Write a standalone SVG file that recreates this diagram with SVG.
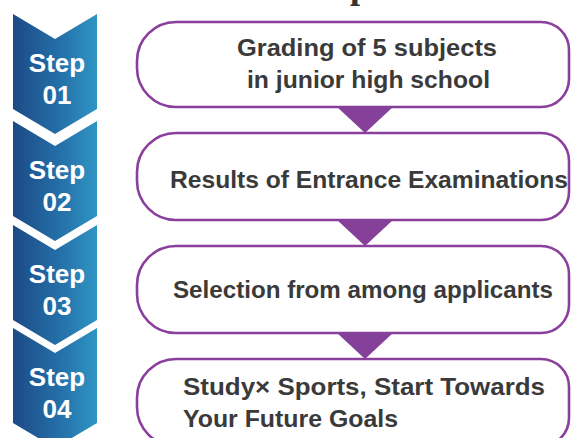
<svg xmlns="http://www.w3.org/2000/svg" width="572" height="438" viewBox="0 0 572 438">
  <defs>
    <linearGradient id="chev" gradientUnits="userSpaceOnUse" x1="13" y1="0" x2="97" y2="0">
      <stop offset="0" stop-color="#1d4a86"/>
      <stop offset="0.55" stop-color="#246fa8"/>
      <stop offset="1" stop-color="#2f95c4"/>
    </linearGradient>
    <style>
      .chev { fill: url(#chev); }
      .step { font-family: "Liberation Sans", Arial, sans-serif; font-weight: bold; font-size: 26px; fill: #ffffff; text-anchor: middle; }
      .box { fill: #ffffff; stroke: #8b3f9d; stroke-width: 2.6; }
      .tri { fill: #85409a; }
      .lbl { font-family: "Liberation Sans", Arial, sans-serif; font-weight: bold; font-size: 24px; fill: #3a3a3a; }
    </style>
  </defs>
  <rect width="572" height="438" fill="#ffffff"/>
  <text x="350" y="-2" font-family="Liberation Serif, serif" font-weight="bold" font-size="36" fill="#333333">p</text>

  <g id="step01">
    <path class="chev" d="M13,14 L55,39 L97,14 L97,109 L55,134 L13,109 Z"/>
    <text class="step" x="57" y="72">Step</text>
    <text class="step" x="57" y="104">01</text>
  </g>
  <g id="step02">
    <path class="chev" d="M13,121 L55,146 L97,121 L97,216 L55,241 L13,216 Z"/>
    <text class="step" x="57" y="179">Step</text>
    <text class="step" x="57" y="211">02</text>
  </g>
  <g id="step03">
    <path class="chev" d="M13,225 L55,250 L97,225 L97,320 L55,345 L13,320 Z"/>
    <text class="step" x="57" y="283">Step</text>
    <text class="step" x="57" y="315">03</text>
  </g>
  <g id="step04">
    <path class="chev" d="M13,328 L55,353 L97,328 L97,423 L55,448 L13,423 Z"/>
    <text class="step" x="57" y="386">Step</text>
    <text class="step" x="57" y="418">04</text>
  </g>

  <g id="box1">
    <path class="box" d="M176,22 H541 A28,28 0 0 1 569,50 V79 A28,28 0 0 1 541,107 H176 A39,39 0 0 1 137,68 V61 A39,39 0 0 1 176,22 Z"/>
    <text class="lbl" x="237" y="56" textLength="260" lengthAdjust="spacingAndGlyphs">Grading of 5 subjects</text>
    <text class="lbl" x="247" y="88" textLength="243" lengthAdjust="spacingAndGlyphs">in junior high school</text>
  </g>
  <g id="box2">
    <path class="box" d="M176,133 H541 A28,28 0 0 1 569,161 V192 A28,28 0 0 1 541,220 H176 A39,39 0 0 1 137,181 V172 A39,39 0 0 1 176,133 Z"/>
    <text class="lbl" x="170" y="188" textLength="398" lengthAdjust="spacingAndGlyphs">Results of Entrance Examinations</text>
  </g>
  <g id="box3">
    <path class="box" d="M176,246 H541 A28,28 0 0 1 569,274 V305 A28,28 0 0 1 541,333 H176 A39,39 0 0 1 137,294 V285 A39,39 0 0 1 176,246 Z"/>
    <text class="lbl" x="173" y="298" textLength="380" lengthAdjust="spacingAndGlyphs">Selection from among applicants</text>
  </g>
  <g id="box4">
    <path class="box" d="M176,359 H541 A28,28 0 0 1 569,387 V418 A28,28 0 0 1 541,446 H176 A39,39 0 0 1 137,407 V398 A39,39 0 0 1 176,359 Z"/>
    <text class="lbl" x="183" y="395" textLength="362" lengthAdjust="spacingAndGlyphs">Study× Sports, Start Towards</text>
    <text class="lbl" x="183" y="427" textLength="215" lengthAdjust="spacingAndGlyphs">Your Future Goals</text>
  </g>

  <g id="connectors">
    <path class="tri" d="M336,106 L394,106 L365,133 Z"/>
    <path class="tri" d="M336,219 L394,219 L365,246 Z"/>
    <path class="tri" d="M336,332 L394,332 L365,359 Z"/>
  </g>
</svg>
